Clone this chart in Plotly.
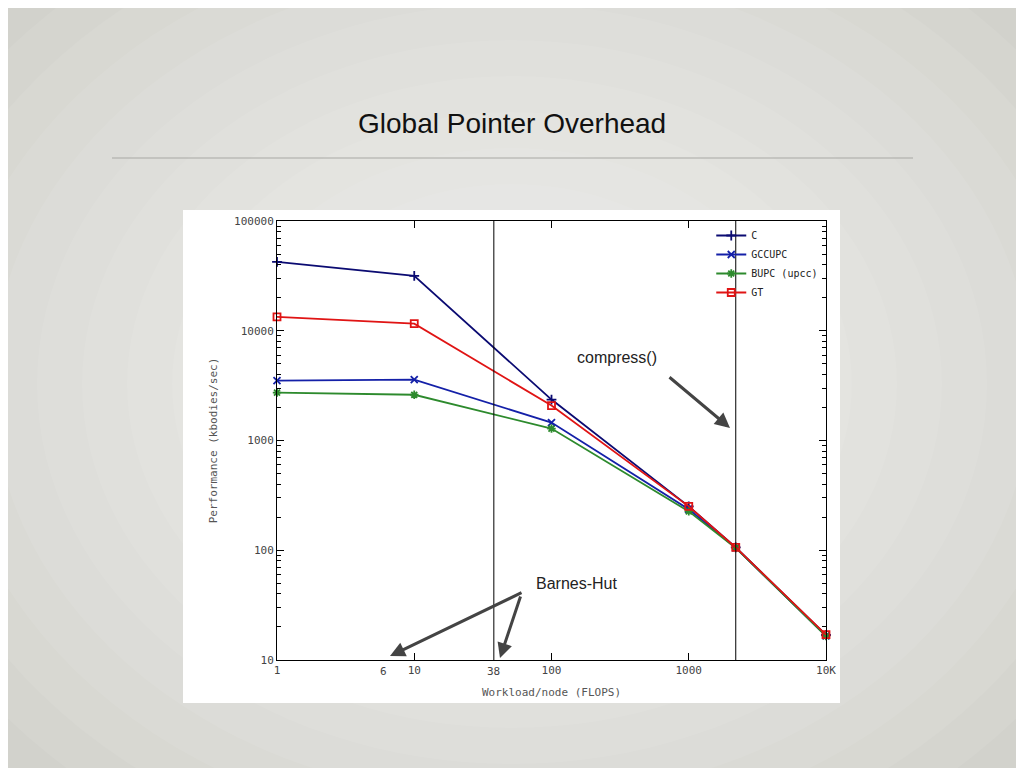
import math
import plotly.graph_objects as go

# workload per node (FLOPS) and performance (kbodies/sec)
workload = [1, 10, 100, 1000, 2200, 10000]
perf_c = [42400, 31600, 2360, 251, 106, 16.9]
perf_gccupc = [3510, 3580, 1458, 236, 105, 16.6]
perf_bupc = [2730, 2610, 1285, 226, 105, 16.5]
perf_gt = [13400, 11600, 2080, 251, 106, 17.0]

x_ticks = [1, 10, 100, 1000, 10000]
x_tick_text = ["1", "10", "100", "1000", "10K"]
y_ticks = [10, 100, 1000, 10000, 100000]
y_tick_text = ["10", "100", "1000", "10000", "100000"]
extra_x_labels = [(6, "6"), (38, "38")]
marker_lines = [38, 2200]

# page is drawn with an 8px body margin
OFF = 8
# plot box in screen pixels
L, R, T, B = 277, 826, 221, 660


def px(x):
    return (x - L) / (R - L)


def py(y):
    return (B - y) / (B - T)


def minor_vals(lo, hi):
    return [m * 10 ** d for d in range(lo, hi) for m in range(2, 10)]


mono = "DejaVu Sans Mono"
series = [
    ("C", perf_c, "#0b0b72", "cross-thin-open"),
    ("GCCUPC", perf_gccupc, "#1420a8", "x-thin-open"),
    ("BUPC (upcc)", perf_bupc, "#2d8a2d", "asterisk-open"),
    ("GT", perf_gt, "#e01414", "square-open"),
]

fig = go.Figure()
for name, vals, color, sym in series:
    fig.add_trace(go.Scatter(
        x=workload, y=vals, name=name, mode="lines+markers", cliponaxis=False,
        line=dict(color=color, width=1.8),
        marker=dict(symbol=sym, size=7, color=color, line=dict(color=color, width=1.8)),
    ))

shapes = []
# soft radial lightening of the slide background
for i in range(14):
    r = 560 - i * 36
    shapes.append(dict(type="circle", xref="paper", yref="paper",
                       x0=px(512 - r * 1.25), x1=px(512 + r * 1.25), y0=py(384 + r), y1=py(384 - r),
                       fillcolor="rgba(255,255,255,0.07)", line=dict(width=0), layer="below"))
shapes += [
    dict(type="rect", xref="paper", yref="paper", x0=px(183), x1=px(840), y0=py(703), y1=py(210),
         fillcolor="white", line=dict(width=0), layer="below"),
    dict(type="line", xref="paper", yref="paper", x0=px(112), x1=px(913), y0=py(158), y1=py(158),
         line=dict(color="#a8a8a4", width=1)),
]
for v in marker_lines:
    shapes.append(dict(type="line", xref="x", yref="paper", x0=v, x1=v, y0=0, y1=1,
                       line=dict(color="black", width=1)))


def label(text, x, y, size, family="Liberation Sans", color="#222"):
    return dict(text=text, xref="paper", yref="paper", x=px(x), y=py(y),
                xanchor="center", yanchor="middle", showarrow=False,
                font=dict(family=family, size=size, color=color))


annotations = [
    label("Global Pointer Overhead", 512, 123, 28, color="#111"),
    label("compress()", 617, 357, 16),
    label("Barnes-Hut", 576, 583, 16),
    label("Workload/node (FLOPS)", 551, 692, 11, family=mono, color="#555"),
]
for head, tail in [((730, 428), (668, 376)), ((390, 656), (523, 592)), ((500, 658), (521, 595))]:
    annotations.append(dict(
        text="", xref="paper", yref="paper", x=px(head[0]), y=py(head[1]),
        ax=tail[0] - head[0], ay=tail[1] - head[1], showarrow=True,
        arrowhead=2, arrowsize=1, arrowwidth=3, arrowcolor="#444"))
for v, t in extra_x_labels:
    annotations.append(dict(text=t, xref="x", yref="paper", x=math.log10(v), y=py(671),
                            xanchor="center", yanchor="middle", showarrow=False,
                            font=dict(family=mono, size=11, color="#444")))

axis_common = dict(
    type="log", showgrid=False, zeroline=False, showline=True, linecolor="black", linewidth=1,
    mirror="allticks", ticks="inside", ticklen=7, tickcolor="black",
    tickfont=dict(family=mono, size=11, color="#444"),
)

fig.update_layout(
    width=1024, height=768,
    margin=dict(l=L - OFF, r=1024 - R + OFF, t=T - OFF, b=768 - B + OFF),
    paper_bgcolor="#cfcfc9", plot_bgcolor="white",
    shapes=shapes, annotations=annotations,
    xaxis=dict(axis_common, range=[0, 4], tickvals=x_ticks, ticktext=x_tick_text),
    yaxis=dict(axis_common, range=[1, 5], tickvals=y_ticks, ticktext=y_tick_text,
               minor=dict(ticks="inside", ticklen=4, tickcolor="black", tickvals=minor_vals(1, 5)),
               title=dict(text="Performance (kbodies/sec)", standoff=14,
                          font=dict(family=mono, size=11, color="#555"))),
    legend=dict(x=0.995, y=1.0, xanchor="right", yanchor="top", bgcolor="rgba(0,0,0,0)",
                font=dict(family=mono, size=10, color="#222"), tracegroupgap=0),
    showlegend=True,
)

fig.write_html("out.html")
